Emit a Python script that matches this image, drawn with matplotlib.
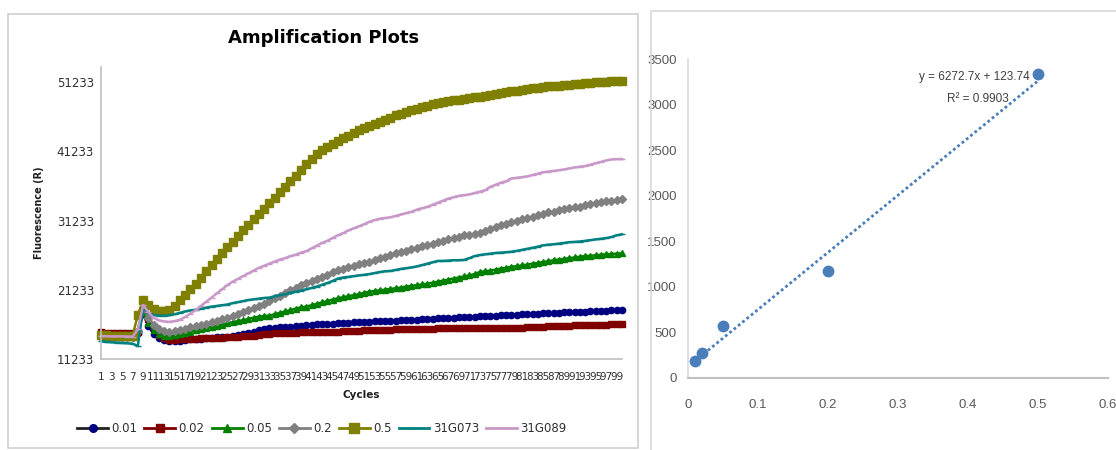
import matplotlib
matplotlib.use('Agg')
import matplotlib.pyplot as plt
from matplotlib.patches import Rectangle
from matplotlib.lines import Line2D
import numpy as np

# ---------------- data: amplification plot ----------------
cycles = list(range(1, 101))
y_ticks = [11233, 21233, 31233, 41233, 51233]
x_tick_cycles = list(range(1, 100, 2))

s_001 = [14650, 14600, 14600, 14580, 14580, 14560, 14560, 15000, 17800, 16000,
         14800, 14200, 13950, 13830, 13850, 13900, 14000, 14050, 14100, 14150,
         14200, 14300, 14350, 14400, 14450, 14600, 14750, 14900, 15050, 15200,
         15350, 15500, 15650, 15750, 15800, 15850, 15900, 15950, 16050, 16150,
         16200, 16250, 16300, 16350, 16350, 16400, 16450, 16500, 16520, 16550,
         16580, 16620, 16650, 16700, 16720, 16750, 16780, 16820, 16860, 16900,
         16930, 16960, 17000, 17050, 17110, 17130, 17150, 17200, 17250, 17280,
         17320, 17350, 17380, 17420, 17460, 17500, 17530, 17560, 17590, 17620,
         17660, 17700, 17740, 17780, 17820, 17860, 17900, 17930, 17960, 18000,
         18030, 18060, 18090, 18120, 18150, 18180, 18210, 18240, 18280, 18310]
s_002 = [15100, 15050, 15000, 14980, 14960, 14950, 14950, 15200, 18000, 17000,
         15800, 14700, 14200, 13980, 14000, 14050, 14100, 14150, 14180, 14200,
         14230, 14260, 14300, 14330, 14360, 14400, 14450, 14500, 14550, 14600,
         14700, 14800, 14900, 14950, 14980, 15000, 15030, 15050, 15070, 15080,
         15090, 15100, 15120, 15140, 15160, 15180, 15220, 15260, 15300, 15340,
         15380, 15420, 15440, 15460, 15480, 15490, 15500, 15510, 15520, 15540,
         15560, 15580, 15600, 15630, 15660, 15660, 15680, 15700, 15720, 15740,
         15750, 15760, 15740, 15720, 15700, 15680, 15660, 15660, 15680, 15720,
         15760, 15800, 15840, 15870, 15900, 15930, 15960, 16000, 16030, 16060,
         16100, 16140, 16160, 16180, 16190, 16200, 16210, 16220, 16230, 16240]
s_005 = [14500, 14480, 14470, 14460, 14450, 14450, 14450, 15500, 18060, 16500,
         15400, 14800, 14550, 14550, 14650, 14800, 15000, 15200, 15400, 15550,
         15700, 15850, 16000, 16200, 16400, 16550, 16700, 16850, 17000, 17200,
         17350, 17450, 17500, 17700, 17900, 18100, 18300, 18500, 18700, 18800,
         19000, 19200, 19400, 19600, 19800, 20000, 20150, 20300, 20450, 20600,
         20800, 20950, 21050, 21150, 21250, 21350, 21450, 21550, 21700, 21800,
         21900, 22000, 22100, 22250, 22400, 22550, 22700, 22850, 23000, 23150,
         23300, 23500, 23800, 23900, 24000, 24150, 24300, 24400, 24550, 24650,
         24750, 24850, 25000, 25100, 25250, 25350, 25500, 25600, 25700, 25800,
         25900, 26000, 26100, 26150, 26200, 26300, 26350, 26400, 26450, 26500]
s_02 = [14550, 14520, 14500, 14500, 14480, 14480, 14480, 15300, 18600, 17200,
        16200, 15600, 15300, 15175, 15250, 15400, 15600, 15800, 15950, 16150,
        16350, 16550, 16750, 16950, 17100, 17400, 17700, 18000, 18300, 18600,
        18900, 19200, 19600, 20000, 20400, 20800, 21200, 21500, 21900, 22200,
        22500, 22800, 23100, 23400, 23800, 24100, 24300, 24500, 24700, 24900,
        25100, 25300, 25500, 25800, 26000, 26200, 26500, 26700, 26900, 27100,
        27300, 27500, 27700, 27900, 28100, 28300, 28500, 28700, 28900, 29100,
        29200, 29300, 29400, 29700, 30000, 30300, 30600, 30800, 31050, 31200,
        31400, 31600, 31800, 32000, 32200, 32400, 32500, 32700, 32850, 33000,
        33150, 33250, 33400, 33550, 33700, 33850, 34000, 34100, 34200, 34290]
s_05 = [14700, 14650, 14600, 14600, 14600, 14600, 14600, 17590, 19750, 19030,
        18500, 18200, 18100, 18300, 18900, 19700, 20500, 21300, 22100, 23000,
        23900, 24800, 25700, 26600, 27400, 28200, 29000, 29800, 30600, 31400,
        32100, 32900, 33700, 34500, 35300, 36100, 36900, 37700, 38500, 39400,
        40100, 40800, 41400, 41900, 42300, 42700, 43100, 43500, 43900, 44300,
        44600, 44900, 45200, 45500, 45800, 46100, 46400, 46600, 46900, 47200,
        47400, 47600, 47800, 48000, 48200, 48350, 48500, 48600, 48700, 48800,
        48900, 49000, 49100, 49200, 49300, 49450, 49600, 49750, 49900, 50000,
        50100, 50200, 50300, 50400, 50500, 50600, 50650, 50700, 50800, 50850,
        50950, 51000, 51100, 51150, 51200, 51250, 51300, 51350, 51400, 51420]
s_g073 = [13800, 13700, 13650, 13600, 13550, 13500, 13450, 13100, 18600, 17900,
          17600, 17500, 17500, 17550, 17700, 17900, 18100, 18250, 18350, 18500,
          18650, 18800, 18900, 19000, 19100, 19300, 19450, 19600, 19750, 19850,
          19950, 20050, 20100, 20300, 20450, 20600, 20800, 20950, 21100, 21300,
          21500, 21700, 21950, 22200, 22500, 22850, 23000, 23100, 23200, 23300,
          23400, 23500, 23650, 23800, 23900, 23950, 24100, 24250, 24350, 24450,
          24600, 24800, 25000, 25200, 25400, 25400, 25450, 25500, 25500, 25550,
          25800, 26100, 26250, 26350, 26450, 26550, 26600, 26650, 26730, 26850,
          27000, 27150, 27300, 27450, 27650, 27750, 27800, 27900, 28000, 28100,
          28150, 28200, 28300, 28400, 28500, 28600, 28700, 28850, 29100, 29240]
s_g089 = [14550, 14520, 14500, 14500, 14500, 14480, 14480, 15500, 19030, 18000,
          17200, 16800, 16650, 16600, 16700, 16900, 17300, 17800, 18300, 18900,
          19500, 20100, 20700, 21300, 21900, 22400, 22800, 23200, 23600, 24000,
          24400, 24700, 25000, 25300, 25600, 25800, 26100, 26300, 26600, 26800,
          27200, 27600, 28000, 28300, 28700, 29100, 29400, 29800, 30100, 30400,
          30700, 31050, 31300, 31500, 31600, 31700, 31900, 32100, 32300, 32500,
          32800, 33000, 33200, 33500, 33800, 34100, 34400, 34600, 34800, 34900,
          35000, 35200, 35400, 35600, 36100, 36400, 36700, 36900, 37300, 37400,
          37500, 37600, 37800, 38000, 38200, 38300, 38400, 38500, 38600, 38750,
          38900, 39000, 39100, 39300, 39500, 39700, 39900, 40050, 40100, 40100]

series_labels = ['0.01', '0.02', '0.05', '0.2', '0.5', '31G073', '31G089']
series_values = [s_001, s_002, s_005, s_02, s_05, s_g073, s_g089]

# ---------------- data: standard curve ----------------
conc = [0.01, 0.02, 0.05, 0.2, 0.5]
signal = [187, 278, 570, 1174, 3336]
fit_slope = 6272.7
fit_intercept = 123.74
fit_r2 = 0.9903

# ---------------- styles ----------------
styles = [
    dict(color='#000080', marker='o', ms=4.5),
    dict(color='#800000', marker='s', ms=4.5),
    dict(color='#008000', marker='^', ms=5.0),
    dict(color='#808080', marker='D', ms=3.8),
    dict(color='#808000', marker='s', ms=5.6),
    dict(color='#008080', marker='_', ms=4.0),
    dict(color='#C898C8', marker='_', ms=4.0),
]

W, H = 1116, 450
fig = plt.figure(figsize=(W / 100, H / 100), dpi=100)

def fx(px):
    return px / W

def fy(py):
    return 1 - py / H

# panel borders
fig.patches.append(Rectangle((fx(8), fy(448)), fx(638) - fx(8), fy(14) - fy(448),
                             transform=fig.transFigure, fill=False,
                             edgecolor='#D0D0D0', lw=1.2))
fig.patches.append(Rectangle((fx(651), fy(470)), fx(1200) - fx(651), fy(11) - fy(470),
                             transform=fig.transFigure, fill=False,
                             edgecolor='#D9D9D9', lw=1.2))

# ---------------- left: amplification plot ----------------
ax = fig.add_axes([fx(101), fy(359), fx(622) - fx(101), fy(67) - fy(359)])
for lab, vals, st in zip(series_labels, series_values, styles):
    ax.plot(cycles, vals, color=st['color'], lw=1.8, marker=st['marker'],
            ms=st['ms'], mfc=st['color'], mec=st['color'], mew=1.0,
            label=lab, clip_on=False)

ax.set_xlim(1, 100)
ax.set_ylim(11233, 53400)
ax.set_yticks(y_ticks)
ax.set_yticklabels([str(v) for v in y_ticks])
ax.set_xticks(x_tick_cycles)
ax.set_xticklabels([str(c) for c in x_tick_cycles])
ax.tick_params(axis='y', length=0, pad=5, labelsize=8.5, labelcolor='#303030')
ax.tick_params(axis='x', length=0, pad=9, labelsize=7.5, labelcolor='#303030')
for s in ['top', 'right']:
    ax.spines[s].set_visible(False)
for s in ['left', 'bottom']:
    ax.spines[s].set_color('#BFBFBF')
    ax.spines[s].set_linewidth(1.2)

fig.text(fx(324), fy(38), 'Amplification Plots', ha='center', va='center',
         fontsize=13, fontweight='bold', color='#000000')
fig.text(fx(361), fy(395), 'Cycles', ha='center', va='center',
         fontsize=7.5, fontweight='bold', color='#202020')
fig.text(fx(39), fy(213), 'Fluorescence (R)', ha='center', va='center',
         rotation=90, fontsize=7, fontweight='bold', color='#202020')

leg_handles = []
for lab, st in zip(series_labels, styles):
    lc = '#202020' if lab == '0.01' else st['color']
    leg_handles.append(Line2D([0], [0], color=lc, lw=2, marker=st['marker'],
                              ms=st['ms'] + 1 if st['marker'] != '_' else 5,
                              mfc=st['color'], mec=st['color']))
fig.legend(leg_handles, series_labels, loc='center',
           bbox_to_anchor=(fx(322), fy(429)), ncol=7, frameon=False,
           fontsize=8.5, handlelength=2.6, handletextpad=0.3,
           columnspacing=0.6, labelcolor='#303030')

# ---------------- right: standard curve ----------------
rfont = ['Liberation Sans', 'DejaVu Sans']
ax2 = fig.add_axes([fx(688), fy(378), fx(1108) - fx(688), fy(59) - fy(378)])
tx = np.array([min(conc), max(conc)])
ax2.plot(tx, fit_slope * tx + fit_intercept, color='#4A7EBB', lw=2.0,
         linestyle=(0, (1, 1)))
ax2.plot(conc, signal, linestyle='none', marker='o', ms=7.5, color='#4A7EBB',
         mec='#4A7EBB', clip_on=False, zorder=3)
ax2.set_xlim(0, 0.6)
ax2.set_ylim(0, 3500)
ax2.set_xticks([0, 0.1, 0.2, 0.3, 0.4, 0.5, 0.6])
ax2.set_xticklabels(['0', '0.1', '0.2', '0.3', '0.4', '0.5', '0.6'])
ax2.set_yticks(list(range(0, 3501, 500)))
ax2.tick_params(length=0, labelsize=9.5, labelcolor='#595959')
ax2.tick_params(axis='x', pad=15)
ax2.tick_params(axis='y', pad=8)
for t in ax2.get_xticklabels() + ax2.get_yticklabels():
    t.set_family(rfont)
for s in ['top', 'right']:
    ax2.spines[s].set_visible(False)
ax2.spines['left'].set_color('#D9D9D9')
ax2.spines['bottom'].set_color('#BFBFBF')
ax2.spines['left'].set_linewidth(1.2)
ax2.spines['bottom'].set_linewidth(1.5)

ax2.text(0.409, 3303, f'y = {fit_slope}x + {fit_intercept}', ha='center',
         va='center', fontsize=8.5, color='#404040', family=rfont)
ax2.text(0.414, 3061, f'R\u00b2 = {fit_r2}', ha='center', va='center',
         fontsize=8.5, color='#404040', family=rfont)

fig.savefig('out.png', dpi=100)
